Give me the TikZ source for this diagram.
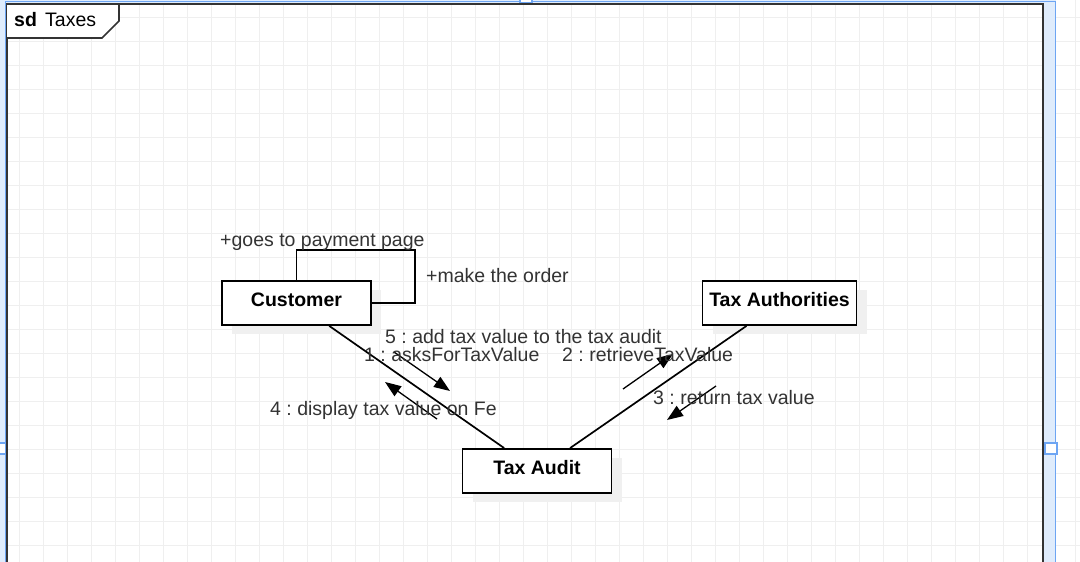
\documentclass[tikz,border=0pt]{standalone}
\usepackage{fontspec}
\setmainfont{Liberation Sans}
\usetikzlibrary{arrows.meta,shadows}

\definecolor{gridgray}{HTML}{EFEFEF}
\definecolor{selblue}{HTML}{6DA5F3}
\definecolor{selfill}{HTML}{DFECFC}
\definecolor{inkgray}{HTML}{333333}

\begin{document}
\frenchspacing
\begin{tikzpicture}[x=1pt, y=-1pt,
    font=\fontsize{19.5}{23}\selectfont,
    obj/.style = {draw=black, line width=1.8pt, fill=white, minimum width=149pt,
      minimum height=44pt, inner sep=0pt, text height=14pt, text depth=8pt,
      font=\fontsize{19.5}{23}\selectfont\bfseries,
      drop shadow={shadow xshift=10pt, shadow yshift=-9pt, fill=black!6, opacity=1}},
    lbl/.style = {anchor=base west, inner sep=0pt, text=inkgray},
    link/.style = {line width=1.7pt},
    msg/.style = {line width=1.3pt, -{Triangle[length=16pt,width=12pt]}}]
    \useasboundingbox (0,0) rectangle (1080,562);
    \clip (0,0) rectangle (1080,562);

    % Grid
    \fill[white] (0,0) rectangle (1080,562);
    \foreach \gx in {0,...,44}
        \draw[gridgray, line width=1pt] (19+24*\gx,0) -- (19+24*\gx,562);
    \foreach \gy in {0,...,22}
        \draw[gridgray, line width=1pt] (0,17+24*\gy) -- (1080,17+24*\gy);

    % Selection
    \fill[selfill] (0,0) rectangle (1056,4);
    \fill[selfill] (0,0) rectangle (5,562);
    \fill[selfill] (1044,0) rectangle (1056,562);
    \draw[selblue, line width=1.5pt] (5.5,562) -- (5.5,1.5) -- (1055.5,1.5) -- (1055.5,562);
    \draw[selblue, line width=2pt, fill=white] (-6,443) rectangle (6,454);
    \draw[selblue, line width=2pt, fill=white] (1045,443) rectangle (1057,454);
    \draw[selblue, line width=2pt, fill=white] (520,-6) rectangle (532,3);

    % Frame
    \draw[inkgray, line width=1.8pt] (7,570) -- (7,4) -- (1043,4) -- (1043,570);
    \draw[inkgray, line width=1.6pt, fill=white] (7,4) -- (119,4) -- (119,21) -- (102,38) -- (7,38);
    \node[lbl, text=black] (sdkw) at (14,27) {\bfseries sd};
    \node[lbl, text=black] (sdname) at (45,27) {Taxes};

    % Nodes
    \node[obj] (cust) at (296.5,303) {Customer};
    \node[obj, minimum width=154pt] (auth) at (779.5,303) {Tax Authorities};
    \node[obj] (audit) at (537,471) {Tax Audit};

    % Links
    \draw[link] (cust) -- (audit);
    \draw[link] (auth) -- (audit);
    \draw[link] (cust.north) |- (415,250) |- (cust.east);

    % Messages
    \coordinate (m1a) at (394,352);
    \coordinate (m1b) at (450,391);
    \coordinate (m4a) at (437,419);
    \coordinate (m4b) at (385,382);
    \coordinate (m2a) at (623,389);
    \coordinate (m2b) at (673,354);
    \coordinate (m3a) at (716,386);
    \coordinate (m3b) at (667,420);
    \draw[msg] (m1a) -- (m1b);
    \draw[msg] (m4a) -- (m4b);
    \draw[msg] (m2a) -- (m2b);
    \draw[msg] (m3a) -- (m3b);

    % Labels
    \node[lbl] (l0) at (220,246) {+goes to payment page};
    \node[lbl] (l6) at (426,282) {+make the order};
    \node[lbl] (l5) at (385,343) {5 : add tax value to the tax audit};
    \node[lbl] (l1) at (364,361) {1 : asksForTaxValue};
    \node[lbl] (l2) at (562,361.5) {2 : retrieveTaxValue};
    \node[lbl] (l3) at (653,404) {3 : return tax value};
    \node[lbl] (l4) at (270,415) {4 : display tax value on Fe};
\end{tikzpicture}
\end{document}
